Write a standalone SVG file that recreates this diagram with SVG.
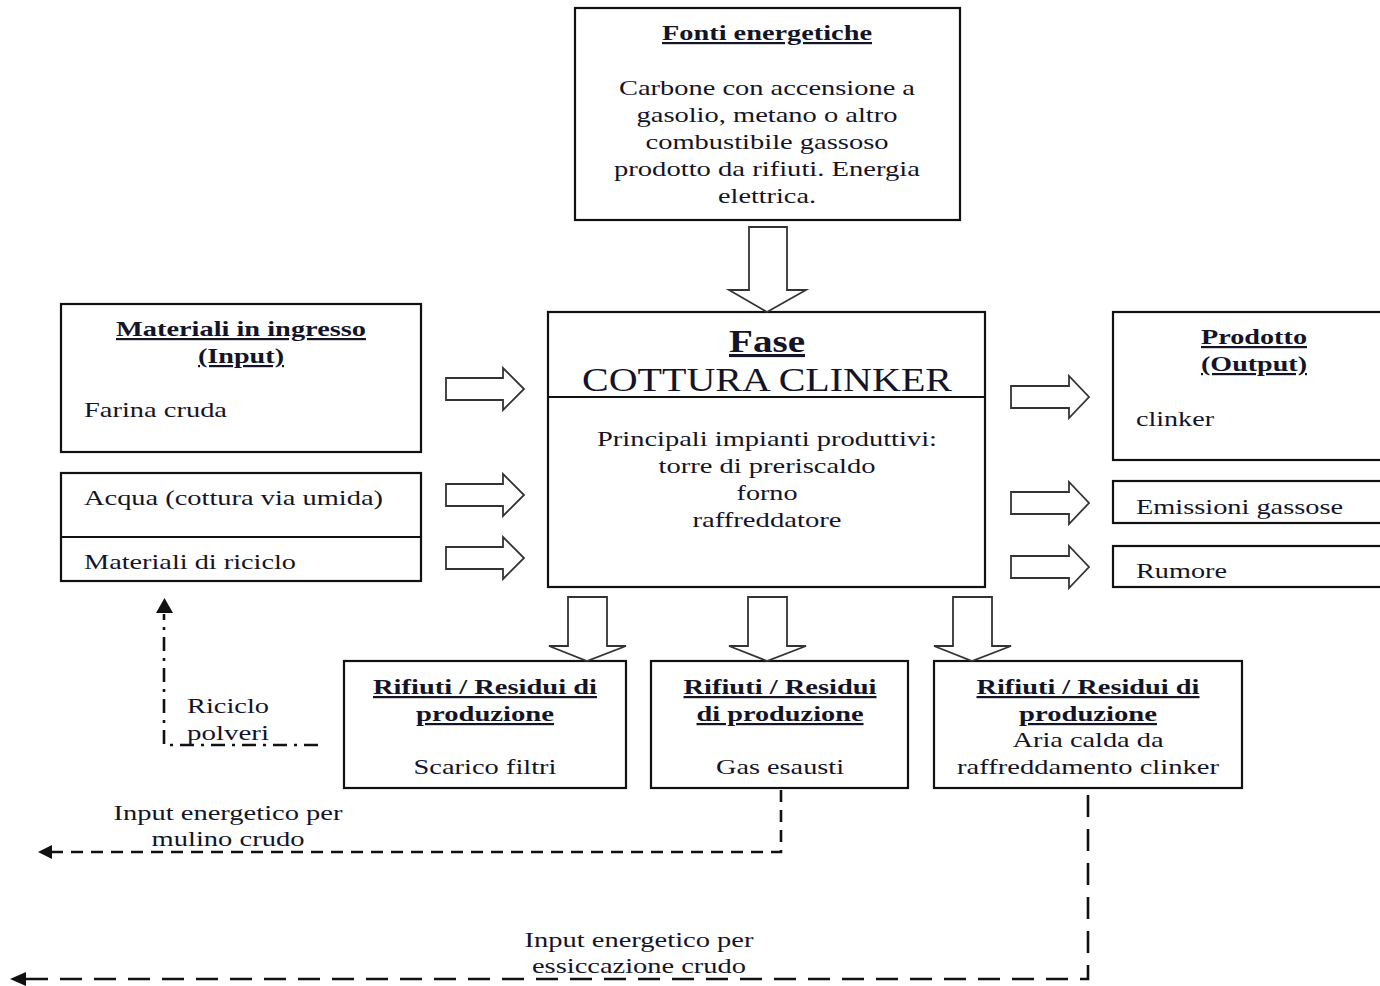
<svg xmlns="http://www.w3.org/2000/svg" width="1380" height="986" viewBox="0 0 1380 986">
<defs>
<style>
.box{fill:#fff;stroke:#111;stroke-width:2.2}
.ln{stroke:#111;stroke-width:2}
.t{font-family:"Liberation Serif","Times New Roman",serif;font-size:22px;fill:#141428}
.c{text-anchor:middle}
.b{font-weight:bold;text-decoration:underline}
.blk{fill:#fff;stroke:#333;stroke-width:1.8}
.dash1{fill:none;stroke:#111;stroke-width:2.6;stroke-dasharray:12 8}
.dash2{fill:none;stroke:#111;stroke-width:2.6;stroke-dasharray:22 12}
.dd{fill:none;stroke:#111;stroke-width:2.6;stroke-dasharray:14 7 3 7}
</style>
<marker id="ah" viewBox="0 0 10 10" refX="9" refY="5" markerWidth="5" markerHeight="5" orient="auto-start-reverse" markerUnits="strokeWidth">
<path d="M0,0 L10,5 L0,10 Z" fill="#111"/>
</marker>
</defs>
<rect width="1380" height="986" fill="#fff"/>

<g id="fonti">
<rect class="box" x="575" y="8" width="385" height="212"/>
<text class="t c b" x="767" y="40" textLength="210" lengthAdjust="spacingAndGlyphs">Fonti energetiche</text>
<text class="t c" x="767" y="95" textLength="296" lengthAdjust="spacingAndGlyphs">Carbone con accensione a</text>
<text class="t c" x="767" y="122" textLength="261" lengthAdjust="spacingAndGlyphs">gasolio, metano o altro</text>
<text class="t c" x="767" y="149" textLength="243" lengthAdjust="spacingAndGlyphs">combustibile gassoso</text>
<text class="t c" x="767" y="176" textLength="306" lengthAdjust="spacingAndGlyphs">prodotto da rifiuti. Energia</text>
<text class="t c" x="767" y="203" textLength="98" lengthAdjust="spacingAndGlyphs">elettrica.</text>
</g>

<g id="fase">
<rect class="box" x="548" y="312" width="437" height="275"/>
<line class="ln" x1="548" y1="397" x2="985" y2="397"/>
<text class="t c b" x="767" y="352" style="font-size:31px" textLength="76" lengthAdjust="spacingAndGlyphs">Fase</text>
<text class="t c" x="767" y="391" style="font-size:33px" textLength="370" lengthAdjust="spacingAndGlyphs">COTTURA CLINKER</text>
<text class="t c" x="767" y="446" textLength="340" lengthAdjust="spacingAndGlyphs">Principali impianti produttivi:</text>
<text class="t c" x="767" y="473" textLength="217" lengthAdjust="spacingAndGlyphs">torre di preriscaldo</text>
<text class="t c" x="767" y="500" textLength="61" lengthAdjust="spacingAndGlyphs">forno</text>
<text class="t c" x="767" y="527" textLength="149" lengthAdjust="spacingAndGlyphs">raffreddatore</text>
</g>

<g id="materiali">
<rect class="box" x="61" y="304" width="360" height="148"/>
<text class="t c b" x="241" y="336" textLength="250" lengthAdjust="spacingAndGlyphs">Materiali in ingresso</text>
<text class="t c b" x="241" y="363" textLength="86" lengthAdjust="spacingAndGlyphs">(Input)</text>
<text class="t" x="84" y="417" textLength="143" lengthAdjust="spacingAndGlyphs">Farina cruda</text>
</g>

<g id="acqua-riciclo">
<rect class="box" x="61" y="473" width="360" height="108"/>
<line class="ln" x1="61" y1="537" x2="421" y2="537"/>
<text class="t" x="84" y="505" textLength="299" lengthAdjust="spacingAndGlyphs">Acqua (cottura via umida)</text>
<text class="t" x="84" y="569" textLength="212" lengthAdjust="spacingAndGlyphs">Materiali di riciclo</text>
</g>

<g id="prodotto">
<rect class="box" x="1113" y="312" width="280" height="148"/>
<text class="t c b" x="1254" y="344" textLength="106" lengthAdjust="spacingAndGlyphs">Prodotto</text>
<text class="t c b" x="1254" y="371" textLength="106" lengthAdjust="spacingAndGlyphs">(Output)</text>
<text class="t" x="1136" y="426" textLength="78" lengthAdjust="spacingAndGlyphs">clinker</text>
</g>

<g id="emissioni">
<rect class="box" x="1113" y="481" width="280" height="42"/>
<text class="t" x="1136" y="514" textLength="207" lengthAdjust="spacingAndGlyphs">Emissioni gassose</text>
</g>

<g id="rumore">
<rect class="box" x="1113" y="546" width="280" height="41"/>
<text class="t" x="1136" y="578" textLength="91" lengthAdjust="spacingAndGlyphs">Rumore</text>
</g>

<g id="rifiuti1">
<rect class="box" x="344" y="661" width="282" height="127"/>
<text class="t c b" x="485" y="694" textLength="224" lengthAdjust="spacingAndGlyphs">Rifiuti / Residui di</text>
<text class="t c b" x="485" y="721" textLength="138" lengthAdjust="spacingAndGlyphs">produzione</text>
<text class="t c" x="485" y="774" textLength="143" lengthAdjust="spacingAndGlyphs">Scarico filtri</text>
</g>

<g id="rifiuti2">
<rect class="box" x="651" y="661" width="257" height="127"/>
<text class="t c b" x="780" y="694" textLength="193" lengthAdjust="spacingAndGlyphs">Rifiuti / Residui</text>
<text class="t c b" x="780" y="721" textLength="167" lengthAdjust="spacingAndGlyphs">di produzione</text>
<text class="t c" x="780" y="774" textLength="128" lengthAdjust="spacingAndGlyphs">Gas esausti</text>
</g>

<g id="rifiuti3">
<rect class="box" x="934" y="661" width="308" height="127"/>
<text class="t c b" x="1088" y="694" textLength="223" lengthAdjust="spacingAndGlyphs">Rifiuti / Residui di</text>
<text class="t c b" x="1088" y="721" textLength="138" lengthAdjust="spacingAndGlyphs">produzione</text>
<text class="t c" x="1088" y="747" textLength="151" lengthAdjust="spacingAndGlyphs">Aria calda da</text>
<text class="t c" x="1088" y="774" textLength="262" lengthAdjust="spacingAndGlyphs">raffreddamento clinker</text>
</g>

<g id="connectors">
<!-- block arrows -->
<path class="blk" d="M749,227 H787 V290 H806 L767,312 L729,290 H749 Z"/>
<path class="blk" d="M446,378 H503 V368 L524,389 L503,410 V400 H446 Z"/>
<path class="blk" d="M446,484 H503 V474 L524,495 L503,516 V506 H446 Z"/>
<path class="blk" d="M446,547 H503 V537 L524,558 L503,579 V569 H446 Z"/>
<path class="blk" d="M1011,386 H1069 V376 L1089,397 L1069,418 V408 H1011 Z"/>
<path class="blk" d="M1011,492 H1069 V482 L1089,503 L1069,524 V514 H1011 Z"/>
<path class="blk" d="M1011,556 H1069 V546 L1089,567 L1069,588 V578 H1011 Z"/>
<path class="blk" d="M568,597 H607 V646 H626 L587,661 L549,646 H568 Z"/>
<path class="blk" d="M748,597 H787 V646 H806 L767,661 L729,646 H748 Z"/>
<path class="blk" d="M953,597 H992 V646 H1011 L972,661 L934,646 H953 Z"/>
<!-- riciclo polveri -->
<path class="dd" d="M318,745 H164 V614"/>
<path d="M156,613 L164.5,598 L173,613 Z" fill="#111"/>
<!-- dashed energy lines -->
<path class="dash1" d="M781,790 V852 H50"/>
<path d="M52,845 L38,852 L52,859 Z" fill="#111"/>
<path class="dash2" d="M1088,795 V979 H24"/>
<path d="M26,972 L10,979 L26,986 Z" fill="#111"/>
</g>

<g id="labels">
<text class="t" x="187" y="713" textLength="82" lengthAdjust="spacingAndGlyphs">Riciclo</text>
<text class="t" x="187" y="740" textLength="82" lengthAdjust="spacingAndGlyphs">polveri</text>
<text class="t c" x="228" y="820" textLength="229" lengthAdjust="spacingAndGlyphs">Input energetico per</text>
<text class="t c" x="228" y="846" textLength="153" lengthAdjust="spacingAndGlyphs">mulino crudo</text>
<text class="t c" x="639" y="947" textLength="229" lengthAdjust="spacingAndGlyphs">Input energetico per</text>
<text class="t c" x="639" y="973" textLength="214" lengthAdjust="spacingAndGlyphs">essiccazione crudo</text>
</g>
</svg>
